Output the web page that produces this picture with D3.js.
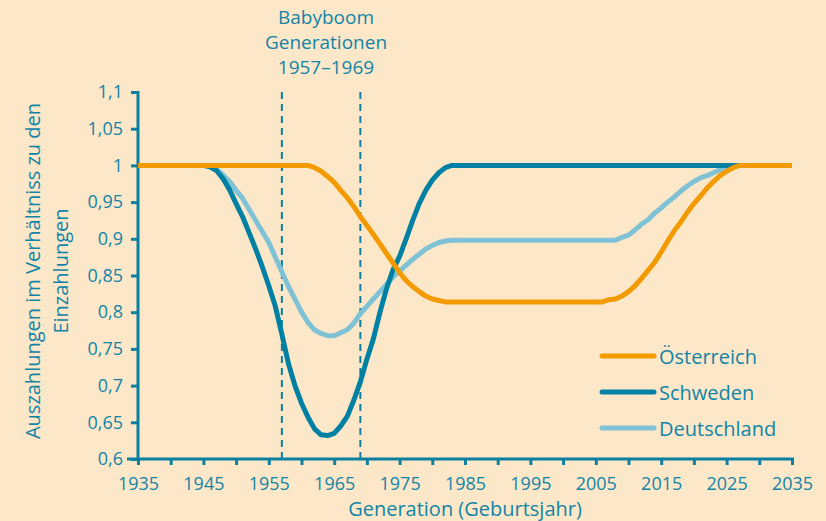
<!DOCTYPE html>
<html><head><meta charset="utf-8">
<script src="https://cdn.jsdelivr.net/npm/d3@7"></script>
<style>
html,body{margin:0;padding:0;background:#fce8c9;}
svg{display:block;}
text{font-family:"Open Sans","Noto Sans",sans-serif;fill:#1384a6;}
</style></head>
<body>
<script>
const xTicks = [1935,1945,1955,1965,1975,1985,1995,2005,2015,2025,2035];
const yTicks = [0.6,0.65,0.7,0.75,0.8,0.85,0.9,0.95,1,1.05,1.1];
const boomYears = [1957,1969];
const seriesNames = ["Österreich","Schweden","Deutschland"];
const seriesColors = ["#f29a00","#0081a3","#80c2d5"];

const atYears = [1935,1960,1961,1962,1963,1964,1965,1966,1967,1968,1969,1970,1971,1972,1973,1974,1975,1976,1977,1978,1979,1980,1981,1982,2006,2007,2008,2009,2010,2011,2012,2013,2014,2015,2016,2017,2018,2019,2020,2021,2022,2023,2024,2025,2026,2027,2035];
const atValues = [1,1,1,0.997,0.992,0.985,0.977,0.966,0.956,0.944,0.93,0.918,0.906,0.893,0.88,0.867,0.854,0.843,0.835,0.828,0.822,0.818,0.816,0.814,0.814,0.817,0.818,0.822,0.828,0.836,0.846,0.857,0.868,0.882,0.897,0.911,0.923,0.936,0.948,0.958,0.969,0.978,0.986,0.992,0.997,1,1];

const seYears = [1935,1945,1946,1947,1948,1949,1950,1951,1952,1953,1954,1955,1956,1957,1958,1959,1960,1961,1962,1963,1964,1965,1966,1967,1968,1969,1970,1971,1972,1973,1974,1975,1976,1977,1978,1979,1980,1981,1982,1983,2035];
const seValues = [1,1,0.998,0.993,0.982,0.967,0.948,0.93,0.908,0.886,0.862,0.836,0.808,0.77,0.73,0.7,0.676,0.657,0.641,0.633,0.632,0.635,0.645,0.658,0.68,0.705,0.736,0.764,0.8,0.832,0.858,0.876,0.9,0.925,0.948,0.966,0.98,0.99,0.997,1,1];

const deYears = [1935,1945,1946,1947,1948,1949,1950,1951,1952,1953,1954,1955,1956,1957,1958,1959,1960,1961,1962,1963,1964,1965,1966,1967,1968,1969,1970,1971,1972,1973,1974,1975,1976,1977,1978,1979,1980,1981,1982,1983,2008,2009,2010,2011,2012,2013,2014,2015,2016,2017,2018,2019,2020,2021,2022,2023,2024,2025,2026,2035];
const deValues = [1,1,0.999,0.995,0.987,0.978,0.966,0.955,0.94,0.925,0.91,0.895,0.875,0.855,0.835,0.818,0.8,0.786,0.776,0.771,0.768,0.768,0.772,0.776,0.785,0.798,0.808,0.818,0.828,0.838,0.848,0.856,0.864,0.872,0.879,0.886,0.891,0.895,0.897,0.898,0.898,0.902,0.905,0.912,0.92,0.926,0.935,0.942,0.95,0.957,0.965,0.972,0.978,0.983,0.986,0.99,0.994,0.997,1,1];

const W = 826, H = 521;
const axisColor = "#0a7fa0";
const svg = d3.select("body").append("svg").attr("width", W).attr("height", H);
svg.append("rect").attr("width", W).attr("height", H).attr("fill", "#fce8c9");

const x = d3.scaleLinear().domain([1935, 2035]).range([138, 792]);
const y = d3.scaleLinear().domain([0.6, 1.1]).range([459, 92]);
const fmt = v => String(v).replace(".", ",");

// axes
const xAxis = svg.append("g").attr("transform", `translate(0,${y(0.6)})`)
  .call(d3.axisBottom(x).tickValues(d3.range(1935, 2036, 5)).tickSize(6).tickPadding(12)
    .tickFormat(d => xTicks.includes(d) ? d : ""));
const yAxis = svg.append("g").attr("transform", `translate(${x(1935)},0)`)
  .call(d3.axisLeft(y).tickValues(yTicks).tickSize(7).tickPadding(8).tickFormat(fmt));
[xAxis, yAxis].forEach(g => {
  g.select(".domain").attr("stroke", axisColor).attr("stroke-width", 3);
  g.selectAll(".tick line").attr("stroke", axisColor).attr("stroke-width", 3);
  g.selectAll(".tick text").style("font-size", "18px").attr("fill", "#1384a6");
});
xAxis.select(".domain").attr("d", `M${x(1935)-11},0H${x(2035)+2}`);
yAxis.select(".domain").attr("d", `M0,${y(0.6)+1}V${y(1.1)-1}`);

// dashed boom lines
svg.selectAll(".boom").data(boomYears).enter().append("line")
  .attr("x1", d => x(d)).attr("x2", d => x(d))
  .attr("y1", y(1.1)).attr("y2", y(0.6))
  .attr("stroke", axisColor).attr("stroke-width", 2).attr("stroke-dasharray", "7,5");

// lines
const series = [
  {name: seriesNames[2], color: seriesColors[2], years: deYears, values: deValues},
  {name: seriesNames[1], color: seriesColors[1], years: seYears, values: seValues},
  {name: seriesNames[0], color: seriesColors[0], years: atYears, values: atValues}
];
const line = d3.line().x(d => x(d[0])).y(d => y(d[1]));
series.forEach(s => {
  svg.append("path").datum(s.years.map((yr, i) => [yr, s.values[i]]))
    .attr("d", line).attr("fill", "none").attr("stroke", s.color)
    .attr("stroke-width", 5).attr("stroke-linejoin", "round");
});

// title
["Babyboom", "Generationen", "1957–1969"].forEach((t, i) =>
  svg.append("text").attr("text-anchor", "middle").style("font-size", "19px")
    .attr("x", 326).attr("y", 24 + i * 25).text(t));

// y label
const yl = svg.append("text").attr("transform", "translate(0,271) rotate(-90)")
  .attr("text-anchor", "middle").style("font-size", "20px");
yl.append("tspan").attr("x", 0).attr("y", 40).text("Auszahlungen im Verhältniss zu den");
yl.append("tspan").attr("x", 0).attr("y", 68).text("Einzahlungen");

// x label
svg.append("text").attr("x", 465).attr("y", 516).attr("text-anchor", "middle")
  .style("font-size", "20px").text("Generation (Geburtsjahr)");

// legend
const leg = svg.append("g");
seriesNames.forEach((n, i) => {
  const yy = 356 + i * 36;
  leg.append("line").attr("x1", 602).attr("x2", 654).attr("y1", yy).attr("y2", yy)
    .attr("stroke", seriesColors[i]).attr("stroke-width", 5).attr("stroke-linecap", "round");
  leg.append("text").attr("x", 659).attr("y", yy + 8).style("font-size", "20px").text(n);
});
</script>
</body></html>
